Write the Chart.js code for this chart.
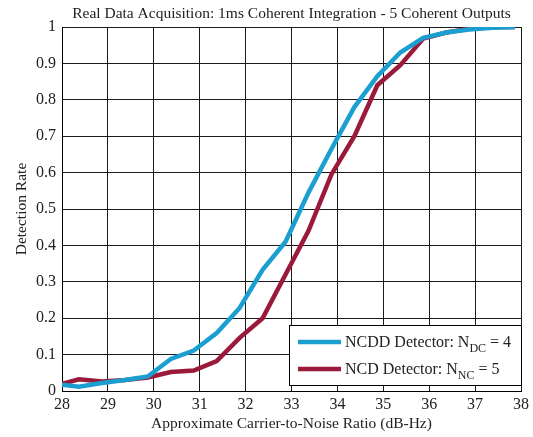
<!DOCTYPE html>
<html><head><meta charset="utf-8">
<script src="https://cdn.jsdelivr.net/npm/chart.js@4"></script>
<style>html,body{margin:0;padding:0;background:#fff}#w{width:533px;height:437px}</style>
</head><body><div id="w"><canvas id="c" width="533" height="437"></canvas></div>
<script>
const cn0 = [28, 28.37, 28.87, 29.37, 29.87, 30.37, 30.87, 31.37, 31.87, 32.37, 32.87, 33.37, 33.87, 34.37, 34.87, 35.37, 35.87, 36.37, 36.87, 37.37, 37.87];
const ncdd = [0.017, 0.012, 0.022, 0.03, 0.04, 0.088, 0.111, 0.159, 0.228, 0.333, 0.41, 0.545, 0.665, 0.78, 0.865, 0.93, 0.97, 0.985, 0.993, 0.998, 1.0];
const ncd = [0.02, 0.032, 0.026, 0.03, 0.037, 0.052, 0.056, 0.082, 0.146, 0.2, 0.32, 0.44, 0.595, 0.7, 0.84, 0.895, 0.968, 0.985, 0.995, 0.999, 1.0];
const seriesNames = ["NCDD Detector: N", "NCD Detector: N"];
const seriesSubs = ["DC", "NC"];
const seriesTails = [" = 4", " = 5"];
const colors = ["#1b9fd1", "#9b1a3a"];
const titleText = "Real Data Acquisition: 1ms Coherent Integration - 5 Coherent Outputs";
const xTitle = "Approximate Carrier-to-Noise Ratio (dB-Hz)";
const yTitle = "Detection Rate";
const serif = "'Liberation Serif','Times New Roman',Times,serif";

const legendPlugin = {
  id: 'customLegend',
  afterDraw(chart) {
    const ctx = chart.ctx;
    const ca = chart.chartArea;
    ctx.save();
    ctx.fillStyle = '#222';
    ctx.font = '15.5px ' + serif;
    ctx.textAlign = 'center';
    ctx.textBaseline = 'alphabetic';
    ctx.fillText(titleText, (ca.left + ca.right) / 2, 18);
    ctx.textAlign = 'left';
    const x0 = 289.5, y0 = 325.5, w = 232, h = 60;
    ctx.fillStyle = '#fff';
    ctx.fillRect(x0, y0, w, h);
    ctx.strokeStyle = '#000';
    ctx.lineWidth = 1;
    ctx.strokeRect(x0, y0, w, h);
    const rows = [342, 369];
    for (let i = 0; i < 2; i++) {
      const y = rows[i];
      ctx.strokeStyle = colors[i];
      ctx.lineWidth = 4.5;
      ctx.beginPath(); ctx.moveTo(298, y); ctx.lineTo(341, y); ctx.stroke();
      ctx.fillStyle = '#222';
      ctx.font = '16px ' + serif;
      let tx = 345;
      ctx.fillText(seriesNames[i], tx, y + 5);
      tx += ctx.measureText(seriesNames[i]).width;
      ctx.font = '12px ' + serif;
      ctx.fillText(seriesSubs[i], tx, y + 10);
      tx += ctx.measureText(seriesSubs[i]).width;
      ctx.font = '16px ' + serif;
      ctx.fillText(seriesTails[i], tx, y + 5);
    }
    ctx.restore();
  }
};

new Chart(document.getElementById('c'), {
  type: 'line',
  data: {
    datasets: [
      { label: seriesNames[0] + seriesSubs[0] + seriesTails[0], data: cn0.map((x, i) => ({x, y: ncdd[i]})), borderColor: colors[0], borderWidth: 4.5, pointRadius: 0, tension: 0, fill: false },
      { label: seriesNames[1] + seriesSubs[1] + seriesTails[1], data: cn0.map((x, i) => ({x, y: ncd[i]})), borderColor: colors[1], borderWidth: 4.5, pointRadius: 0, tension: 0, fill: false }
    ]
  },
  options: {
    responsive: false,
    animation: false,
    events: [],
    layout: { padding: { left: 13, right: 11, top: 27, bottom: 0 } },
    plugins: {
      legend: { display: false },
      tooltip: { enabled: false },
      title: { display: false }
    },
    scales: {
      x: {
        type: 'linear', min: 28, max: 38,
        ticks: { stepSize: 1, color: '#222', font: { family: serif, size: 16 }, padding: 4, maxRotation: 0 },
        grid: { color: '#1a1a1a', lineWidth: 1, drawTicks: false },
        border: { color: '#000', width: 1 },
        title: { display: true, text: xTitle, color: '#222', font: { family: serif, size: 15.5 }, padding: { top: 0, bottom: 4 } },
        afterFit(s) { s.height = 46; }
      },
      y: {
        min: 0, max: 1,
        ticks: { stepSize: 0.1, color: '#222', font: { family: serif, size: 16 }, padding: 6, callback: v => String(+v.toFixed(1)) },
        grid: { color: '#1a1a1a', lineWidth: 1, drawTicks: false },
        border: { color: '#000', width: 1 },
        title: { display: true, text: yTitle, color: '#222', font: { family: serif, size: 15.5 }, padding: { top: 0, bottom: 6 } },
        afterFit(s) { s.width = 49; }
      }
    }
  },
  plugins: [legendPlugin]
});
</script></body></html>
